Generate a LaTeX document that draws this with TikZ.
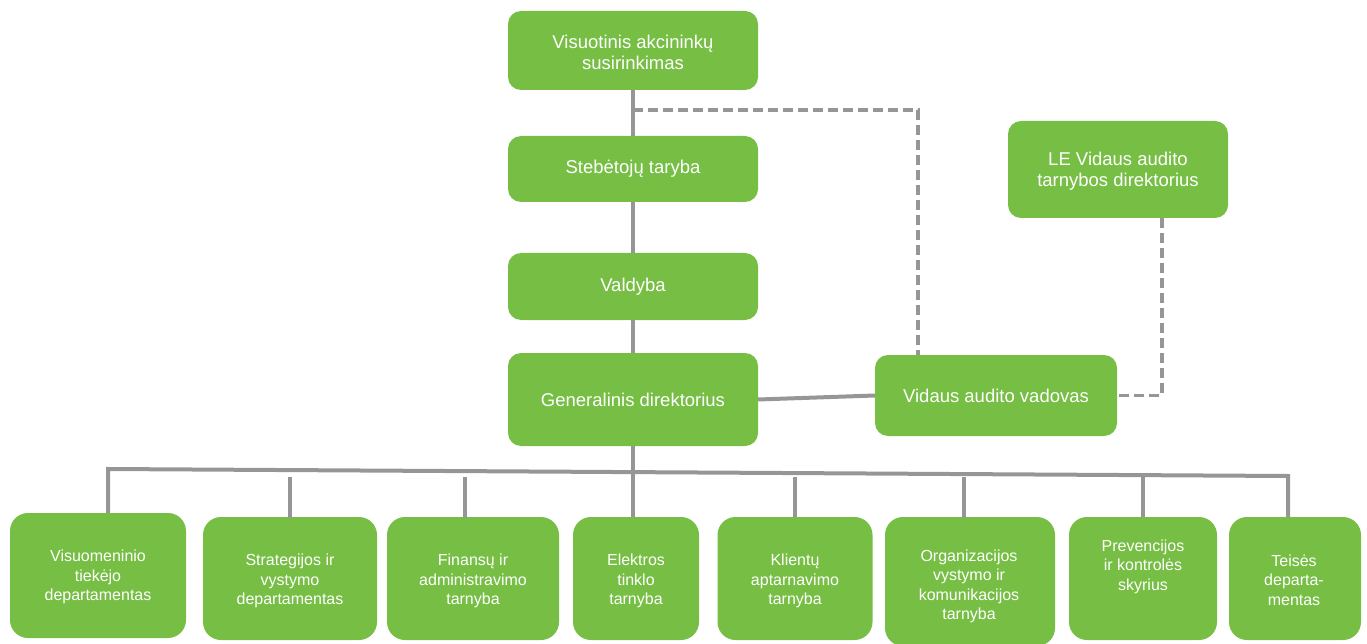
\documentclass[tikz,border=0pt]{standalone}
\usepackage{fontspec}
\setmainfont{Liberation Sans}
\definecolor{boxgreen}{RGB}{118,190,68}
\definecolor{linegrey}{RGB}{150,150,150}
\tikzset{
  topbox/.style={rectangle, rounded corners=13pt, fill=boxgreen, inner sep=0pt, text=white, align=center, font=\fontsize{18.5}{21.5}\selectfont},
  botbox/.style={rectangle, rounded corners=18pt, fill=boxgreen, inner sep=0pt},
  bottxt/.style={text=white, align=center, inner sep=0pt, font=\fontsize{16}{19.5}\selectfont},
  solidline/.style={draw=linegrey, line width=4pt},
  dashline/.style={draw=linegrey, line width=3.5pt, dash pattern=on 10pt off 5pt},
}
\begin{document}
\begin{tikzpicture}[x=1pt,y=-1pt]
\useasboundingbox (0,0) rectangle (1367,644);
\coordinate (busL) at (108,469);
\coordinate (busR) at (1288,476);
\coordinate (dashStart) at (633,110);
% top chain boxes
\node[topbox, minimum width=250pt, minimum height=79pt] (V) at (633,50.5) {};
\node[topbox, minimum width=250pt, minimum height=66pt] (S) at (633,169) {Stebėtojų taryba};
\node[topbox, minimum width=250pt, minimum height=67pt] (Val) at (633,286.5) {Valdyba};
\node[topbox, minimum width=250pt, minimum height=93pt] (G) at (633,399.5) {Generalinis direktorius};
\node[topbox, minimum width=242pt, minimum height=81pt] (VA) at (996,395.5) {Vidaus audito vadovas};
\node[topbox, minimum width=220pt, minimum height=97pt] (LE) at (1118,169.5) {};
\node[topbox, fill=none] (Vt) at (633,52.5) {Visuotinis akcininkų\\susirinkimas};
\node[topbox, fill=none] (LEt) at (1118,171) {LE Vidaus audito\\tarnybos direktorius};
% bottom boxes
\node[botbox, minimum width=176pt, minimum height=125pt] (b1) at (98,575.5) {};
\node[botbox, minimum width=174pt, minimum height=123pt] (b2) at (290,578.5) {};
\node[botbox, minimum width=172pt, minimum height=123pt] (b3) at (473,578.5) {};
\node[botbox, minimum width=126pt, minimum height=123pt] (b4) at (636,578.5) {};
\node[botbox, minimum width=155pt, minimum height=123pt] (b5) at (795,578.5) {};
\node[botbox, minimum width=170pt, minimum height=129pt] (b6) at (970,581.5) {};
\node[botbox, minimum width=148pt, minimum height=123pt] (b7) at (1143,578.5) {};
\node[botbox, minimum width=132pt, minimum height=123pt] (b8) at (1295,578.5) {};
\node[bottxt] (t1) at (98,577) {Visuomeninio\\tiekėjo\\departamentas};
\node[bottxt] (t2) at (290,581) {Strategijos ir\\vystymo\\departamentas};
\node[bottxt] (t3) at (473,581) {Finansų ir\\administravimo\\tarnyba};
\node[bottxt] (t4) at (636,581) {Elektros\\tinklo\\tarnyba};
\node[bottxt] (t5) at (795,581) {Klientų\\aptarnavimo\\tarnyba};
\node[bottxt] (t6) at (969,586.5) {Organizacijos\\vystymo ir\\komunikacijos\\tarnyba};
\node[bottxt] (t7) at (1143,566.5) {Prevencijos\\ir kontrolės\\skyrius};
\node[bottxt] (t8) at (1294,580) {Teisės\\departa-\\mentas};
% solid connectors
\draw[solidline] (V.south) -- (S.north);
\draw[solidline] (S.south) -- (Val.north);
\draw[solidline] (Val.south) -- (G.north);
\draw[solidline] (G.south) -- (G.south |- b4.north);
\draw[solidline] (G.east) -- (VA.west);
\draw[solidline] (b1.north -| busL) -- (busL) -- (busR) -- (b8.north -| busR);
\draw[solidline] (290,477) -- (290,517.5);
\draw[solidline] (465,477) -- (465,517.5);
\draw[solidline] (795,477) -- (b5.north);
\draw[solidline] (964,477) -- (964,517.5);
\draw[solidline] (1143,477) -- (b7.north);
% dashed connectors
\draw[dashline] (dashStart) -| (VA.north -| 918,0);
\draw[dashline] (LE.south -| 1162,0) |- (VA.east);
\end{tikzpicture}
\end{document}
